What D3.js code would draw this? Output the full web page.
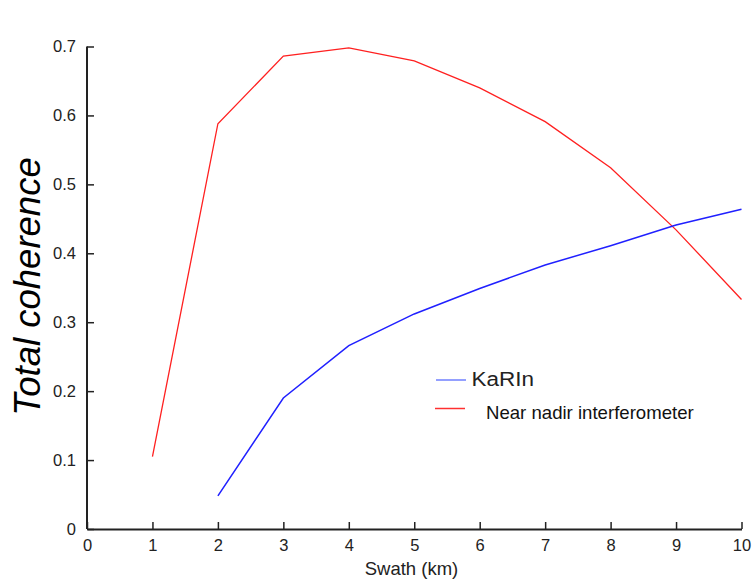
<!DOCTYPE html>
<html><head><meta charset="utf-8">
<script src="https://cdn.jsdelivr.net/npm/d3@7"></script>
<style>body{margin:0;background:#fff;} text{font-family:"Liberation Sans",Arial,sans-serif;}</style>
</head><body>
<svg id="c" width="753" height="579"></svg>
<script>
const xTicks = [0,1,2,3,4,5,6,7,8,9,10];
const yTicks = [0,0.1,0.2,0.3,0.4,0.5,0.6,0.7];
const redX = [1,2,3,4,5,6,7,8,9,10];
const redY = [0.105,0.588,0.686,0.698,0.679,0.640,0.591,0.524,0.434,0.333];
const blueX = [2,3,4,5,6,7,8,9,10];
const blueY = [0.048,0.190,0.266,0.312,0.349,0.383,0.411,0.441,0.464];
const seriesNames = ["KaRIn","Near nadir interferometer"];

const svg = d3.select("#c");
const x = d3.scaleLinear().domain([0,10]).range([87,741.5]);
const y = d3.scaleLinear().domain([0,0.7]).range([529,46.5]);

const xa = svg.append("g").attr("transform","translate(0,529)")
  .call(d3.axisBottom(x).tickValues(xTicks).tickSizeInner(-7).tickSizeOuter(0).tickPadding(10).tickFormat(d3.format("d")));
const ya = svg.append("g").attr("transform","translate(87,0)")
  .call(d3.axisLeft(y).tickValues(yTicks).tickSizeInner(-7).tickSizeOuter(0).tickPadding(11).tickFormat(d=>d===0?"0":d3.format(".1f")(d)));
[xa,ya].forEach(a=>{
  a.select(".domain").attr("stroke","#222").attr("stroke-width",2);
  a.selectAll(".tick line").attr("stroke","#222").attr("stroke-width",1.5);
  a.selectAll(".tick text").attr("fill","#222").style("font-size","16.5px");
});
ya.select(".domain").attr("d","M0,"+y(0.7)+"V"+y(0));

const line = d3.line();
svg.append("path").attr("d",line(redX.map((v,i)=>[x(v),y(redY[i])])))
  .attr("fill","none").attr("stroke","#ff2020").attr("stroke-width",1.3);
svg.append("path").attr("d",line(blueX.map((v,i)=>[x(v),y(blueY[i])])))
  .attr("fill","none").attr("stroke","#2020ff").attr("stroke-width",1.5);

// legend
svg.append("line").attr("x1",436).attr("x2",466).attr("y1",380).attr("y2",380).attr("stroke","#7080ff").attr("stroke-width",1.5);
svg.append("text").attr("x",471.5).attr("y",385.7).text(seriesNames[0]).style("font-size","20px")
  .attr("textLength",62.5).attr("lengthAdjust","spacingAndGlyphs").attr("fill","#222");
svg.append("line").attr("x1",435).attr("x2",465).attr("y1",408.5).attr("y2",408.5).attr("stroke","#ff3030").attr("stroke-width",1.5);
svg.append("text").attr("x",486).attr("y",419.3).text(seriesNames[1]).style("font-size","18.6px").attr("fill","#111");

svg.append("text").attr("transform","translate(39.5,286.5) rotate(-90)").attr("text-anchor","middle")
  .style("font-size","36.5px").style("font-style","italic").attr("fill","#000").text("Total coherence");
svg.append("text").attr("x",411.5).attr("y",575).attr("text-anchor","middle")
  .style("font-size","18.5px").attr("fill","#222").text("Swath (km)");
</script>
</body></html>
